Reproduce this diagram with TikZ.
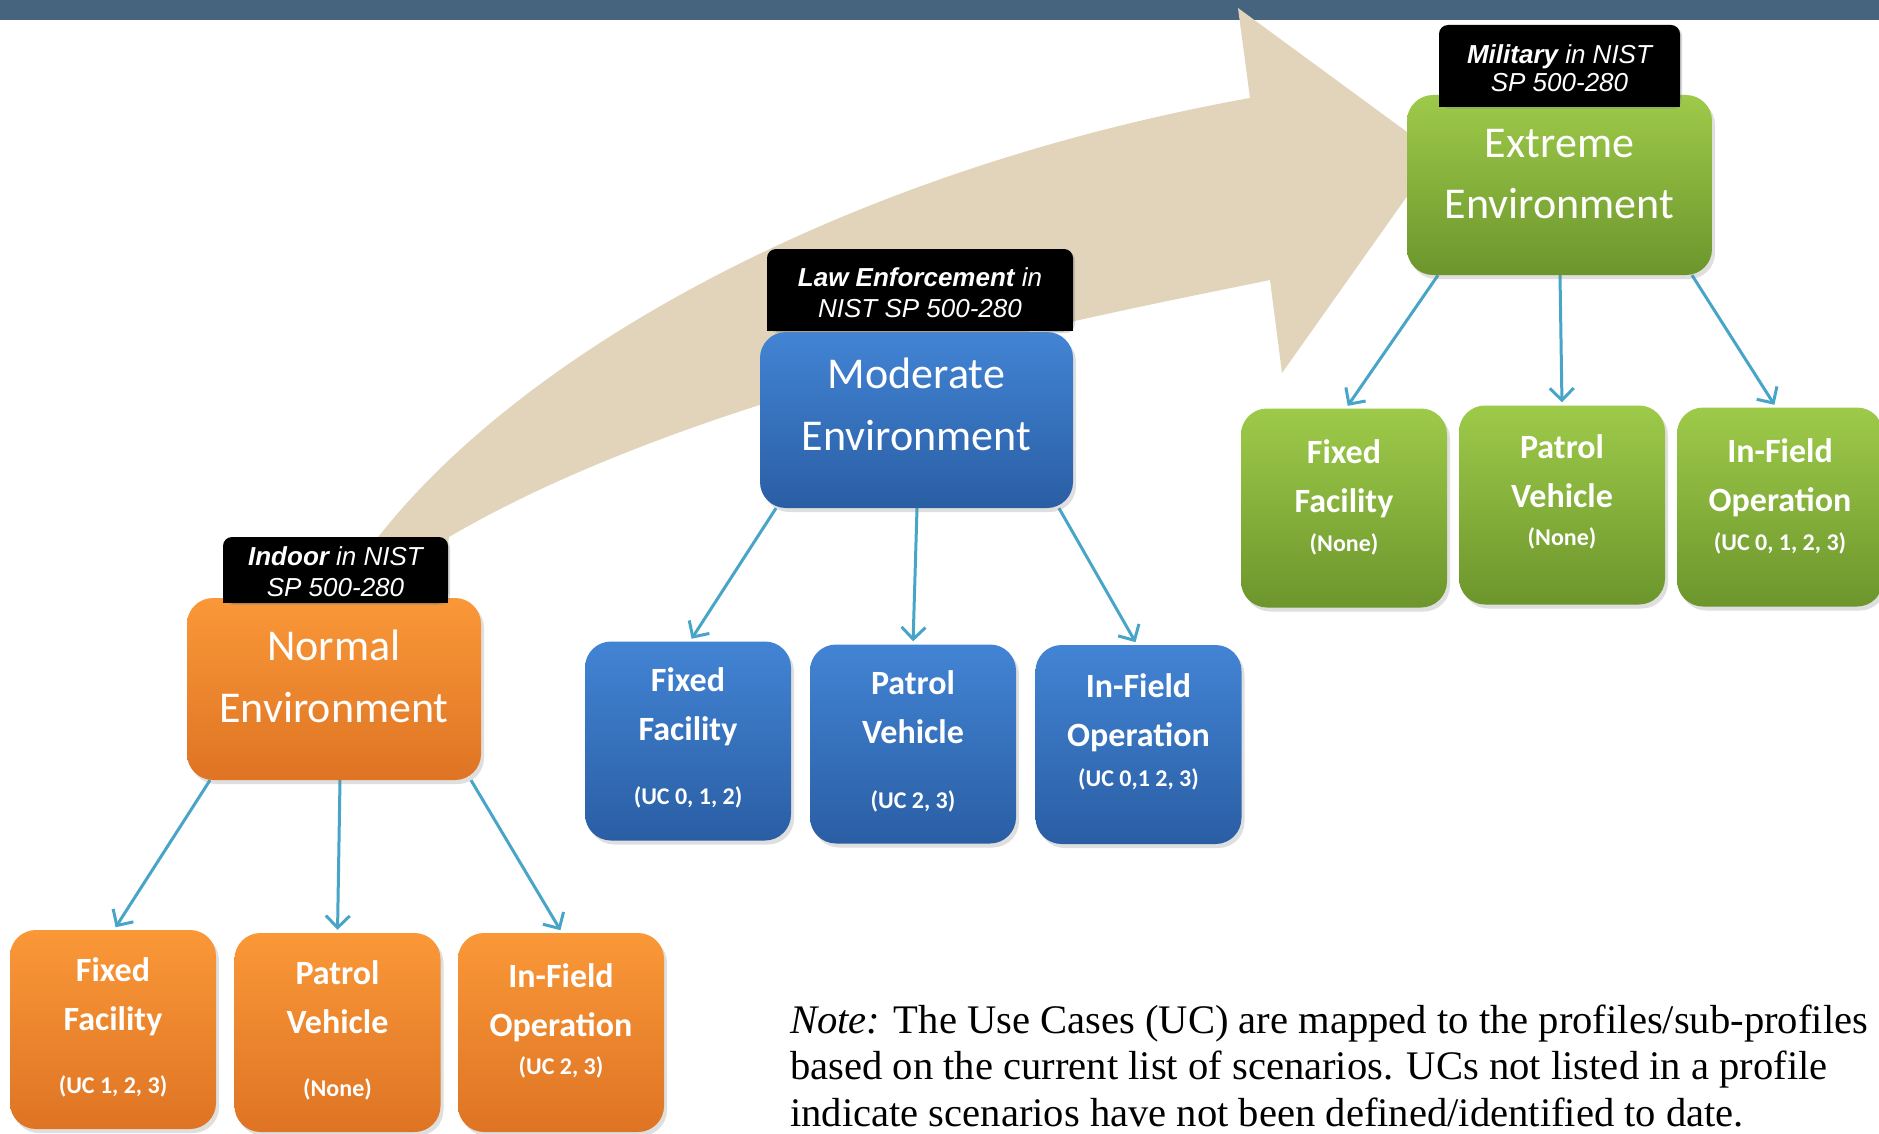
\documentclass[tikz,border=0pt]{standalone}
\usepackage{fontspec}
\setmainfont{Liberation Serif}
\newfontfamily\calfont{Carlito}
\newfontfamily\arialfont{Liberation Sans}
\usetikzlibrary{arrows.meta,shadows}

\pgfdeclarelayer{backdrop}
\pgfdeclarelayer{links}
\pgfsetlayers{backdrop,links,main}

\definecolor{barblue}{RGB}{70,100,126}
\definecolor{sand}{RGB}{226,212,186}
\definecolor{linkteal}{RGB}{72,165,200}
\definecolor{orgTop}{RGB}{250,152,56}
\definecolor{orgBot}{RGB}{222,116,36}
\definecolor{bluTop}{RGB}{66,132,212}
\definecolor{bluBot}{RGB}{42,94,164}
\definecolor{grnTop}{RGB}{158,202,74}
\definecolor{grnBot}{RGB}{108,150,44}

\tikzset{
  panel/.style={rounded corners=26pt, inner sep=0pt, draw=none,
    drop shadow={opacity=0.25, shadow xshift=3pt, shadow yshift=-4pt}},
  orangepanel/.style={panel, top color=orgTop, bottom color=orgBot},
  bluepanel/.style={panel, top color=bluTop, bottom color=bluBot},
  greenpanel/.style={panel, top color=grnTop, bottom color=grnBot},
  kidsize/.style={minimum width=206pt, minimum height=199pt},
  headtext/.style={anchor=base, inner sep=0pt, text=white,
    font=\calfont\fontsize{44}{50}\selectfont},
  kidtext/.style={anchor=base, inner sep=0pt, text=white,
    font=\calfont\bfseries\fontsize{34}{40}\selectfont},
  uctext/.style={anchor=base, inner sep=0pt, text=white,
    font=\calfont\bfseries\fontsize{24}{28}\selectfont},
  tagshape/.style={fill=black, rounded corners=9pt, inner sep=0pt,
    drop shadow={opacity=0.3, shadow xshift=2pt, shadow yshift=-2pt}},
  tagtext/.style={anchor=base, inner sep=0pt, text=white,
    font=\arialfont\itshape\fontsize{26}{30}\selectfont},
  link/.style={draw=linkteal, line width=3pt,
    -{Straight Barb[length=12pt, width=24pt, line width=3pt]}, shorten >=3pt},
  notetext/.style={anchor=base west, inner sep=0pt,
    font=\fontsize{40.6}{46}\selectfont},
}

% sub-profile panel: name, colour style, x, y, line 1, line 2, UC line,
% baseline of line 1 and baseline of UC line (measured from the top edge)
\newcommand\kidpanel[9]{%
  \node[#2, kidsize] (#1) at (#3,#4) {};
  \node[kidtext] (#1-a) at ([yshift=-#8pt]#1.north) {#5};
  \node[kidtext] (#1-b) at ([yshift=-#8pt-49pt]#1.north) {#6};
  \node[uctext] (#1-c) at ([yshift=-#9pt]#1.north) {#7};
}

\begin{document}
\begin{tikzpicture}[x=1pt, y=-1pt]
\useasboundingbox (0,0) rectangle (1879,1134);

\begin{pgfonlayer}{backdrop}
  \fill[white] (0,0) rectangle (1879,1134);
  \fill[barblue] (0,0) rectangle (1879,20);
  % curved progression arrow
  \fill[sand] (372,545) .. controls (520,350) and (850,170) .. (1250,98)
    -- (1238,8) -- (1437,154) -- (1282,373) -- (1270,280)
    .. controls (1100,315) and (700,390) .. (449,537)
    -- (440,600) -- (362,600) -- cycle;
\end{pgfonlayer}

% profiles
\node[orangepanel, minimum width=294pt, minimum height=182pt] (normal) at (334,689) {};
\node[headtext] (normal-a) at ([yshift=-63pt]normal.north) {Normal};
\node[headtext] (normal-b) at ([yshift=-125pt]normal.north) {Environment};

\node[bluepanel, minimum width=313pt, minimum height=176pt] (moderate) at (916.5,420) {};
\node[headtext] (moderate-a) at ([yshift=-57pt]moderate.north) {Moderate};
\node[headtext] (moderate-b) at ([yshift=-119pt]moderate.north) {Environment};

\node[greenpanel, minimum width=305pt, minimum height=180pt] (extreme) at (1559.5,185) {};
\node[headtext] (extreme-a) at ([yshift=-63pt]extreme.north) {Extreme};
\node[headtext] (extreme-b) at ([yshift=-124pt]extreme.north) {Environment};

% sub-profiles
\kidpanel{nfix}{orangepanel}{113}{1029.5}{Fixed}{Facility}{(UC 1, 2, 3)}{52}{164}
\kidpanel{npat}{orangepanel}{337.5}{1032.5}{Patrol}{Vehicle}{(None)}{52}{164}
\kidpanel{nfld}{orangepanel}{561}{1032.5}{In-Field}{Operation}{(UC 2, 3)}{55}{142}

\kidpanel{mfix}{bluepanel}{688}{741}{Fixed}{Facility}{(UC 0, 1, 2)}{50}{163}
\kidpanel{mpat}{bluepanel}{913}{744}{Patrol}{Vehicle}{(UC 2, 3)}{50}{164}
\kidpanel{mfld}{bluepanel}{1138.5}{744.5}{In-Field}{Operation}{(UC 0,1 2, 3)}{53}{142}

\kidpanel{xfix}{greenpanel}{1344}{508}{Fixed}{Facility}{(None)}{55}{143}
\kidpanel{xpat}{greenpanel}{1562}{505}{Patrol}{Vehicle}{(None)}{53}{140}
\kidpanel{xfld}{greenpanel}{1780}{507}{In-Field}{Operation}{(UC 0, 1, 2, 3)}{55}{143}

% NIST SP 500-280 tags
\node[tagshape, minimum width=225pt, minimum height=66pt] (tagA) at (335.5,570) {};
\fill[black] (tagA.west) rectangle (tagA.south east);
\node[tagtext] (tagA-a) at ([yshift=-29pt]tagA.north) {\textbf{Indoor} in NIST};
\node[tagtext] (tagA-b) at ([yshift=-60pt]tagA.north) {SP 500-280};

\node[tagshape, minimum width=306pt, minimum height=82pt] (tagB) at (920,290) {};
\fill[black] (tagB.west) rectangle (tagB.south east);
\node[tagtext] (tagB-a) at ([yshift=-37.5pt]tagB.north) {\textbf{Law Enforcement} in};
\node[tagtext] (tagB-b) at ([yshift=-69pt]tagB.north) {NIST SP 500-280};

\node[tagshape, minimum width=241pt, minimum height=82pt] (tagC) at (1559.5,66) {};
\fill[black] (tagC.west) rectangle (tagC.south east);
\node[tagtext] (tagC-a) at ([yshift=-39pt]tagC.north) {\textbf{Military} in NIST};
\node[tagtext] (tagC-b) at ([yshift=-67pt]tagC.north) {SP 500-280};

% connectors
\begin{pgfonlayer}{links}
  \draw[link] ([xshift=-124pt]normal.south) -- ([xshift=1pt]nfix.north);
  \draw[link] ([xshift=6pt]normal.south) -- (npat.north);
  \draw[link] ([xshift=137pt]normal.south) -- ([xshift=1pt]nfld.north);
  \draw[link] ([xshift=-140.5pt]moderate.south) -- ([xshift=2pt]mfix.north);
  \draw[link] ([xshift=0.5pt]moderate.south) -- (mpat.north);
  \draw[link] ([xshift=142.5pt]moderate.south) -- ([xshift=-1.5pt]mfld.north);
  \draw[link] ([xshift=-121.5pt]extreme.south) -- ([xshift=2pt]xfix.north);
  \draw[link] ([xshift=0.5pt]extreme.south) -- (xpat.north);
  \draw[link] ([xshift=132.5pt]extreme.south) -- ([xshift=-4pt]xfld.north);
\end{pgfonlayer}

% note
\node[notetext] (note1) at (790,1033) {\textit{Note:} The Use Cases (UC) are mapped to the profiles/sub-profiles};
\node[notetext] (note2) at (790,1079.5) {based on the current list of scenarios. UCs not listed in a profile};
\node[notetext] (note3) at (790,1126) {indicate scenarios have not been defined/identified to date.};
\end{tikzpicture}
\end{document}
